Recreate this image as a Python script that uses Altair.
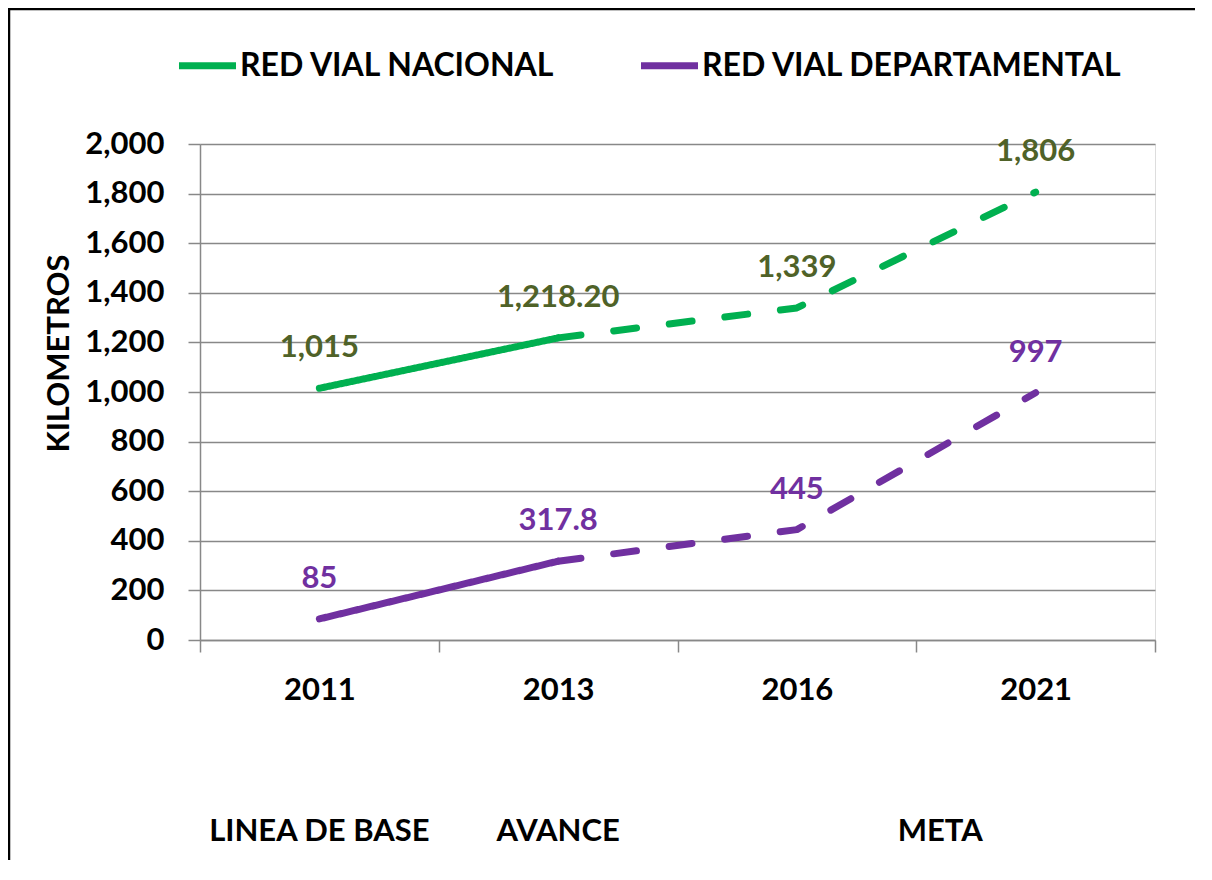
import altair as alt
import pandas as pd

years = ["2011", "2013", "2016", "2021"]
series_names = ["RED VIAL NACIONAL", "RED VIAL DEPARTAMENTAL"]
nacional = [1015, 1218.20, 1339, 1806]
departamental = [85, 317.8, 445, 997]
nacional_labels = ["1,015", "1,218.20", "1,339", "1,806"]
departamental_labels = ["85", "317.8", "445", "997"]
line_colors = ["#00B050", "#7030A0"]
label_colors = ["#4F6228", "#7030A0"]
stage_labels = ["LINEA DE BASE", "AVANCE"]
stage_years = ["2011", "2013"]
meta_label = "META"
meta_year = "2016"

FONT = "Lato"
FS = 31

rows = []
for s, vals, labs, lc in [
    (series_names[0], nacional, nacional_labels, label_colors[0]),
    (series_names[1], departamental, departamental_labels, label_colors[1]),
]:
    for i, (y, v, l) in enumerate(zip(years, vals, labs)):
        # solid part: first two points, dashed: from 2013 onwards
        if i <= 1:
            rows.append({"year": y, "value": v, "series": s, "seg": "real", "label": l, "lcolor": lc, "show": 1})
        if i >= 1:
            rows.append({"year": y, "value": v, "series": s, "seg": "proj", "label": l, "lcolor": lc, "show": 0 if i == 1 else 1})
df = pd.DataFrame(rows)

xscale = alt.Scale(type="band", domain=years, paddingInner=0, paddingOuter=0)
yscale = alt.Scale(domain=[0, 2000], nice=False)

x_enc = alt.X(
    "year:N", scale=xscale, bandPosition=0.5, title=None,
    axis=alt.Axis(
        tickBand="extent", labelAngle=0, tickSize=12, labelPadding=23,
        domainColor="#888888", tickColor="#888888", domainWidth=1.5, tickWidth=1.5,
        grid=False, labelFontSize=FS, labelFont=FONT, labelFontWeight="bold", labelColor="black",
    ),
)
y_enc = alt.Y(
    "value:Q", scale=yscale, title="KILOMETROS",
    axis=alt.Axis(
        values=list(range(0, 2001, 200)), format=",.0f", tickSize=12, labelPadding=24,
        domainColor="#888888", tickColor="#888888", domainWidth=1.5, tickWidth=1.5,
        gridColor="#888888", gridWidth=1.5,
        labelFontSize=FS, labelFont=FONT, labelFontWeight="bold", labelColor="black",
        titleFontSize=FS, titleFont=FONT, titleFontWeight="bold", titleColor="black",
        titleX=-141, titleY=209, titleAngle=270, titleAlign="center", titleBaseline="middle",
    ),
)

base = alt.Chart(df)

lines = base.mark_line(strokeWidth=7, strokeCap="round", strokeJoin="round").encode(
    x=x_enc,
    y=y_enc,
    color=alt.Color(
        "series:N",
        scale=alt.Scale(domain=series_names, range=line_colors),
        legend=alt.Legend(
            title=None, orient="none", legendX=-25, legendY=-111, direction="horizontal",
            symbolType="stroke", symbolStrokeWidth=7, symbolSize=3250,
            labelFontSize=32, labelFont=FONT, labelFontWeight="bold", labelColor="black",
            labelOffset=0, columnPadding=70, labelLimit=600,
        ),
    ),
    strokeDash=alt.StrokeDash(
        "seg:N", scale=alt.Scale(domain=["real", "proj"], range=[[1, 0], [23, 33]]), legend=None
    ),
    detail="seg:N",
)

labels = base.transform_filter("datum.show == 1").mark_text(
    font=FONT, fontWeight="bold", fontSize=FS, dy=-40, baseline="middle", align="center"
).encode(
    x=alt.X("year:N", scale=xscale, bandPosition=0.5),
    y=alt.Y("value:Q", scale=yscale),
    text="label:N",
    color=alt.Color("lcolor:N", scale=None),
)

stage_df = pd.DataFrame({"year": stage_years, "label": stage_labels})
stages = alt.Chart(stage_df).mark_text(
    font=FONT, fontWeight="bold", fontSize=FS, baseline="middle", align="center", color="black"
).encode(
    x=alt.X("year:N", scale=xscale, bandPosition=0.5),
    y=alt.value(688),
    text="label:N",
)

meta_df = pd.DataFrame({"year": [meta_year], "label": [meta_label]})
meta = alt.Chart(meta_df).mark_text(
    font=FONT, fontWeight="bold", fontSize=FS, baseline="middle", align="center", color="black", dx=24
).encode(
    x=alt.X("year:N", scale=xscale, bandPosition=1),
    y=alt.value(688),
    text="label:N",
)

frame_top = alt.Chart(alt.Data(values=[{}])).mark_rule(
    stroke="black", strokeWidth=2.5, clip=False
).encode(x=alt.value(-192), x2=alt.value(995), y=alt.value(-135))

frame_left = alt.Chart(alt.Data(values=[{}])).mark_rule(
    stroke="black", strokeWidth=2.5, clip=False
).encode(x=alt.value(-191), y=alt.value(-136), y2=alt.value(716))

chart = alt.layer(frame_top, frame_left, lines, labels, stages, meta).properties(
    width=955, height=496,
    autosize=alt.AutoSizeParams(type="none"),
    padding={"left": 192, "top": 136, "right": 40, "bottom": 220},
).configure_view(stroke=None).configure(background="white")

chart.save("out.html", embed_options={"renderer": "svg", "actions": False})
